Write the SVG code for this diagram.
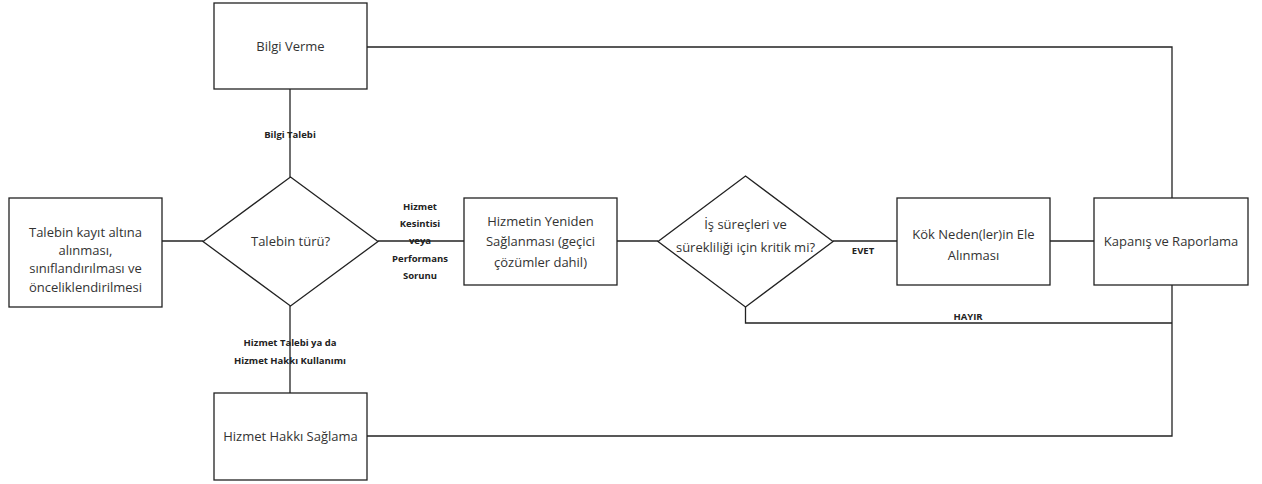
<svg xmlns="http://www.w3.org/2000/svg" width="1262" height="484" viewBox="0 0 1262 484">
<style>
.n{fill:#fff;stroke:#222;stroke-width:1.3}
.c{fill:none;stroke:#222;stroke-width:1.3}
.t{font-family:"Open Sans","Liberation Sans",sans-serif;font-size:13px;fill:#333;text-anchor:middle}
.l{font-family:"Open Sans","Liberation Sans",sans-serif;font-size:9.5px;font-weight:bold;fill:#222;text-anchor:middle}
</style>
<rect width="1262" height="484" fill="#fff"/>
<g id="connectors">
<path class="c" d="M367,47 H1172 V198"/>
<path class="c" d="M290,89 V177"/>
<path class="c" d="M162,241 H203"/>
<path class="c" d="M378,241 H464"/>
<path class="c" d="M617,241 H658"/>
<path class="c" d="M833,241 H897"/>
<path class="c" d="M1050,241 H1094"/>
<path class="c" d="M290,306 V393"/>
<path class="c" d="M745.5,307 V323 H1172"/>
<path class="c" d="M367,436 H1172 V285"/>
</g>
<g id="labels">
<text class="l" x="290" y="138">Bilgi Talebi</text>
<text class="l" x="420" y="210">Hizmet</text>
<text class="l" x="420" y="227">Kesintisi</text>
<text class="l" x="420" y="244">veya</text>
<text class="l" x="420" y="262">Performans</text>
<text class="l" x="420" y="279">Sorunu</text>
<text class="l" x="863" y="254">EVET</text>
<text class="l" x="968" y="320">HAYIR</text>
<text class="l" x="290" y="346">Hizmet Talebi ya da</text>
<text class="l" x="290" y="364">Hizmet Hakkı Kullanımı</text>
</g>
<g id="bilgi-verme">
<rect class="n" x="214" y="3" width="153" height="86"/>
<text class="t" x="290.5" y="51">Bilgi Verme</text>
</g>
<g id="talebin-kayit">
<rect class="n" x="9" y="198" width="153" height="109"/>
<text class="t" x="85.5" y="237">Talebin kayıt altına</text>
<text class="t" x="85.5" y="255">alınması,</text>
<text class="t" x="85.5" y="273">sınıflandırılması ve</text>
<text class="t" x="85.5" y="292">önceliklendirilmesi</text>
</g>
<g id="talebin-turu">
<polygon class="n" points="290.5,177 378,241.5 290.5,306 203,241.5"/>
<text class="t" x="290.5" y="246">Talebin türü?</text>
</g>
<g id="hizmetin-yeniden">
<rect class="n" x="464" y="198" width="153" height="87"/>
<text class="t" x="540.5" y="226">Hizmetin Yeniden</text>
<text class="t" x="540.5" y="246">Sağlanması (geçici</text>
<text class="t" x="540.5" y="267">çözümler dahil)</text>
</g>
<g id="kritik">
<polygon class="n" points="745.5,176 833,241.5 745.5,307 658,241.5"/>
<text class="t" x="745.5" y="229">İş süreçleri ve</text>
<text class="t" x="745.5" y="252">sürekliliği için kritik mi?</text>
</g>
<g id="kok-neden">
<rect class="n" x="897" y="198" width="153" height="87"/>
<text class="t" x="973.5" y="239">Kök Neden(ler)in Ele</text>
<text class="t" x="973.5" y="260">Alınması</text>
</g>
<g id="kapanis">
<rect class="n" x="1094" y="198" width="154" height="87"/>
<text class="t" x="1171" y="246">Kapanış ve Raporlama</text>
</g>
<g id="hizmet-hakki">
<rect class="n" x="214" y="393" width="153" height="87"/>
<text class="t" x="290.5" y="441">Hizmet Hakkı Sağlama</text>
</g>
</svg>
